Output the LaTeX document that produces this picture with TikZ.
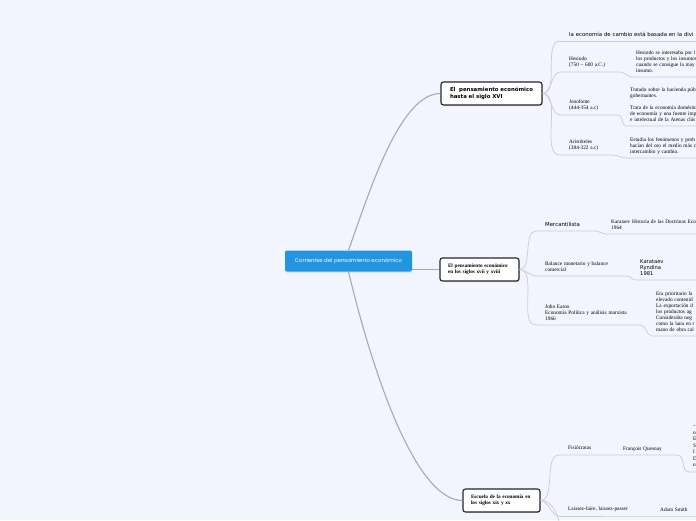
\documentclass[tikz,border=0pt]{standalone}
\usepackage{fontspec}
\setmainfont{Liberation Serif}
\newfontfamily\sansf{DejaVu Sans}
\newfontfamily\rootf{Poppins}
\usetikzlibrary{positioning,shadows}
\definecolor{paper}{HTML}{F2F5FD}
\definecolor{rootblue}{HTML}{2395E0}
\definecolor{wire}{HTML}{C8CCD5}
\definecolor{stem}{HTML}{A9A9AC}

\begin{document}
\begin{tikzpicture}[x=1pt, y=-1pt,
  root/.style={fill=rootblue, rounded corners=2pt, minimum width=127pt,
               minimum height=21pt, text=white, font=\rootf\fontsize{5.4}{6}\selectfont,
               drop shadow={shadow xshift=0pt, shadow yshift=-1.5pt, opacity=.15}},
  topic/.style={draw=black!85, line width=1.1pt, fill=white, rounded corners=2.5pt,
                minimum height=23pt, inner xsep=8pt, align=left,
                font=\bfseries\fontsize{5.2}{6.2}\selectfont,
                drop shadow={shadow xshift=.6pt, shadow yshift=-.8pt, opacity=.3}},
  sub/.style={anchor=south west, inner xsep=9pt, inner ysep=3pt,
              execute at end node=\strut, align=left, font=\fontsize{5.3}{6.5}\selectfont},
  subsans/.style={sub, font=\sansf\fontsize{5.4}{6}\selectfont},
  leaf/.style={sub, inner xsep=4pt, text width=110pt, font=\fontsize{5.3}{5.8}\selectfont},
  link/.style={wire, line width=.7pt},
  trunk/.style={stem, line width=1.1pt}]
\useasboundingbox (0,0) rectangle (696,520);
\fill[paper] (0,0) rectangle (696,520);

\node[root] (root) at (348.5,261) {Corrientes del pensamiento económico};

\node[topic, inner xsep=9pt, text width=83pt, font=\sansf\bfseries\fontsize{5.4}{7}\selectfont]
  (n1) at (491.5,93.5) {El~ pensamiento económico\\hasta el siglo XVI};
\node[topic, text width=63pt] (n2) at (479.5,269.5)
  {El pensamiento económico\\en los siglos xvii y xviii};
\node[topic, text width=61pt] (n3) at (501.5,500.5)
  {Escuela de la economía en\\los siglos xix y xx};

\draw[trunk] (root.north) .. controls (370,190) and (400,93.5) .. (n1.west);
\draw[trunk] (root.east |- n2.west) -- (n2.west);
\draw[trunk] (root.south) .. controls (372,370) and (415,500.5) .. (n3.west);

\node[subsans, text width=200pt] (eco) at (560,41)
  {la economía de cambio está basada en la divi};
\node[sub, text width=42pt] (hes) at (560,72) {Hesiodo\\(750 – 600 a.C.)};
\node[leaf] (hesd) at (632,77)
  {Hesiodo se interesaba por l\\los productos y los insumos\\cuando se consigue la may\\insumo.};
\node[sub, text width=40pt] (jen) at (560,115) {Jenofonte\\(444-354 a.c)};
\node[leaf] (jend) at (626,126)
  {Tratado sobre la hacienda púb\\gobernantes.\\[6pt]Trata de la economía doméstic\\de economía y una fuente imp\\e intelectual de la Atenas clás};
\node[sub, text width=34pt] (ari) at (560,155) {Aristóteles\\(384-322 a.c)};
\node[leaf] (arid) at (626,158)
  {Estudia los fenómenos y prob\\hacían del oro el medio más c\\intercambio y cambio.};

\node[subsans, text width=40pt] (mer) at (536,231) {Mercantilista};
\node[leaf] (merd) at (607,234) {Karataev Historia de las Doctrinas Eco\\1964};
\node[sub, text width=72pt, font=\fontsize{5.3}{6}\selectfont] (bal) at (536,276)
  {Balance monetario y balance\\comercial};
\node[leaf, font=\sansf\fontsize{5.2}{6}\selectfont] (bald) at (636,280)
  {Karataev\\Ryndina\\1981};
\node[sub, text width=86pt, font=\fontsize{5.3}{6}\selectfont] (eat) at (536,325)
  {John Eaton\\Economía Política y análisis marxista\\1966};
\node[leaf, font=\fontsize{5.3}{6}\selectfont] (eatd) at (652,336)
  {Era prioritario la\\elevado contenid\\La exportación d\\los productos ag\\Consideraba neg\\como la lana en r\\mano de obra cal};

\node[sub, text width=40pt] (fis) at (559,455) {Fisiócratas};
\node[leaf, text width=50pt] (fisd) at (619,455) {François Quesnay};
\node[leaf, font=\fontsize{5.3}{6.5}\selectfont] (fisdd) at (689,472)
  {–\\o\\E\\S\\I\\D\\n};
\node[sub, text width=68pt] (lai) at (559,516) {Laissez-faire, laissez-passer};
\node[leaf] (laid) at (656,516) {Adam Smith};
\coordinate (next) at (566,560);

\foreach \c in {eco,hes,jen,ari}
  \draw[link] (n1.east) to[out=0, in=180, looseness=.8] (\c.south west);
\foreach \c in {mer,bal,eat}
  \draw[link] (n2.east) to[out=0, in=180, looseness=.8] (\c.south west);
\foreach \c in {fis,lai}
  \draw[link] (n3.east) to[out=0, in=180, looseness=.8] (\c.south west);
\draw[link] (n3.east) to[out=0, in=100, looseness=.8] (next);

\draw[link] (eco.south west) -- (eco.south east);
\draw[link] (hes.south west) -- (hes.south east) to[out=0, in=180] (hesd.south west) -- (hesd.south east);
\draw[link] (jen.south west) -- (jen.south east) to[out=0, in=180] (jend.south west) -- (jend.south east);
\draw[link] (ari.south west) -- (ari.south east) to[out=0, in=180] (arid.south west) -- (arid.south east);
\draw[link] (mer.south west) -- (mer.south east) to[out=0, in=180] (merd.south west) -- (merd.south east);
\draw[link] (bal.south west) -- (bal.south east) to[out=0, in=180] (bald.south west) -- (bald.south east);
\draw[link] (eat.south west) -- (eat.south east) to[out=0, in=180] (eatd.south west) -- (eatd.south east);
\draw[link] (fis.south west) -- (fis.south east) -- (fisd.south west) -- (fisd.south east)
  to[out=0, in=180] (fisdd.south west) -- (fisdd.south east);
\draw[link] (lai.south west) -- (lai.south east) -- (laid.south west) -- (laid.south east);
\end{tikzpicture}
\end{document}
